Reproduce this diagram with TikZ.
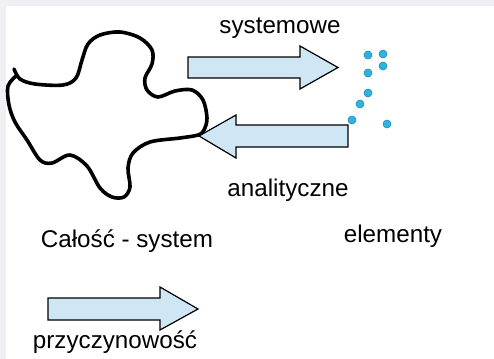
\documentclass[tikz,border=0pt]{standalone}
\usepackage{fontspec}
\setmainfont{Liberation Sans}
\usepackage{tikz}
\usetikzlibrary{positioning}
\definecolor{pagegrey}{RGB}{239,239,244}
\definecolor{arrowblue}{RGB}{207,231,245}
\definecolor{dotblue}{RGB}{45,180,222}
\definecolor{dotedge}{RGB}{30,140,180}
\tikzstyle{label} = [anchor=base, inner sep=0pt, font=\fontsize{12.1}{14}\selectfont]
\tikzstyle{blockarrow} = [draw=black, fill=arrowblue, line width=0.6pt, line join=miter]
\tikzset{
	blob/.style={line width=1.8pt, line cap=round, line join=round},
	dot/.style={circle, fill=dotblue, draw=dotedge, line width=0.3pt,
		inner sep=0pt, minimum size=4pt},
}

\begin{document}
\begin{tikzpicture}[x=0.5pt, y=-0.5pt]

\useasboundingbox (0,0) rectangle (494,359);
\fill [pagegrey] (0,0) rectangle (494,359);
\fill [white] (6,6) rectangle (494,359);

%whole
\draw [blob] plot [smooth, tension=0.55] coordinates {
	(14,69) (20,79) (35,84) (63,85) (76,78) (82,60) (88,44) (100,35)
	(120,32) (140,38) (152,50) (152,64) (145,78) (147,90) (158,97)
	(175,91) (192,90) (203,100) (207,118) (204,130) (198,135)
	(180,138) (150,142) (133,153) (128,168) (130,187) (124,197)
	(112,197) (100,188) (87,166) (70,155) (52,163) (40,160) (27,140)
	(15,122) (9,105) (8,86) (17,75)};

%arrows
\draw [blockarrow] (188,57) -- (300,57) -- (300,46) -- (338,67.5)
	-- (300,89) -- (300,78) -- (188,78) -- cycle;
\draw [blockarrow] (348,125) -- (236,125) -- (236,115) -- (199,136)
	-- (236,158) -- (236,147) -- (348,147) -- cycle;
\draw [blockarrow] (48,298) -- (160,298) -- (160,287) -- (198,309)
	-- (160,330) -- (160,320) -- (48,320) -- cycle;

%elements
\foreach \x/\y [count=\i] in {368/55, 383/54, 383/66, 368/73, 368/93,
	360/104, 352/120, 387/124}
	\node [dot] (e\i) at (\x,\y) {};

\node [label] (sys) at (280,33) {systemowe};
\node [label] (anl) at (288,196) {analityczne};
\node [label] (whole) at (127,247) {Całość - system};
\node [label] (elem) at (393,242) {elementy};
\node [label] (cause) at (115,348) {przyczynowość};

\end{tikzpicture}
\end{document}
